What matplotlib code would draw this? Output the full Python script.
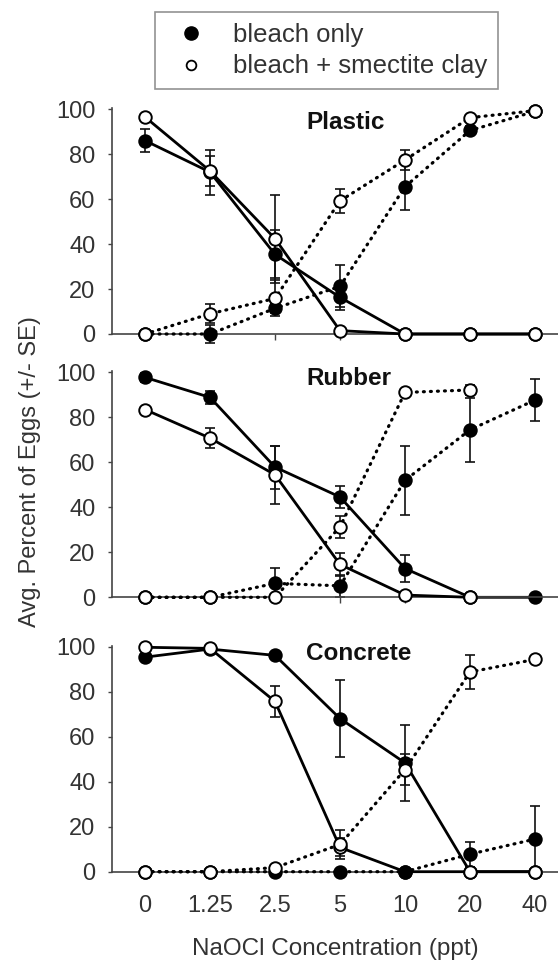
import numpy as np
import matplotlib
matplotlib.use("Agg")
import matplotlib.pyplot as plt
from matplotlib.lines import Line2D

plt.rcParams['font.family'] = ['Liberation Sans', 'DejaVu Sans']

conc_labels = ['0', '1.25', '2.5', '5', '10', '20', '40']
panels = ['Plastic', 'Rubber', 'Concrete']
nan = np.nan

# solid lines (decreasing), dotted lines (increasing)
# sb = bleach only solid, sc = bleach + clay solid, db / dc = dotted
plastic_sb = [86, 72, 35.4, 16.3, 0, 0, 0]
plastic_sb_se = [5, 10, 10.7, 5.5, 0, 0, 0]
plastic_sc = [96.5, 72.5, 42.4, 1.5, 0, 0, 0]
plastic_sc_se = [0, 6.6, 19.6, 0, 0, 0, 0]
plastic_db = [0, 0, 11.4, 21.2, 65.5, 90.5, 99]
plastic_db_se = [0, 4, 2, 9.4, 10.5, 2, 0]
plastic_dc = [0, 9, 15.8, 59.2, 77.4, 96.2, 99.3]
plastic_dc_se = [0, 4.2, 8, 5.5, 4.5, 1, 0]

rubber_sb = [97.8, 88.9, 57.9, 44.6, 12.8, 0, 0]
rubber_sb_se = [2, 3, 9.6, 4.7, 6, 0, 0]
rubber_sc = [83.5, 70.8, 54.5, 14.6, 1, 0, nan]
rubber_sc_se = [1, 4.5, 12.8, 5, 0, 0, 0]
rubber_db = [0, 0, 6.2, 5.1, 52, 74.5, 87.7]
rubber_db_se = [0, 0, 6.7, 5, 15.3, 14.3, 9.2]
rubber_dc = [0, 0, 0, 31.3, 91.1, 92.2, nan]
rubber_dc_se = [0, 0, 0, 5, 0, 2.3, 0]

concrete_sb = [95.4, 99, 96.2, 68.1, 48.4, 0, 0]
concrete_sb_se = [1, 0, 0, 17, 17, 0, 0]
concrete_sc = [99.8, 99.3, 75.7, 10.8, 0, 0, 0]
concrete_sc_se = [0, 0, 7, 4, 0, 0, 0]
concrete_db = [0, 0, 0, 0, 0, 7.8, 14.5]
concrete_db_se = [0, 0, 0, 0, 0, 5.5, 14.6]
concrete_dc = [0, 0, 1.8, 12.1, 45.4, 88.8, 94.4]
concrete_dc_se = [0, 0, 0, 6.5, 7, 7.5, 0]

data = {
    'Plastic': [(plastic_sb, plastic_sb_se), (plastic_sc, plastic_sc_se),
                (plastic_db, plastic_db_se), (plastic_dc, plastic_dc_se)],
    'Rubber': [(rubber_sb, rubber_sb_se), (rubber_sc, rubber_sc_se),
               (rubber_db, rubber_db_se), (rubber_dc, rubber_dc_se)],
    'Concrete': [(concrete_sb, concrete_sb_se), (concrete_sc, concrete_sc_se),
                 (concrete_db, concrete_db_se), (concrete_dc, concrete_dc_se)],
}
title_y = {'Plastic': 94, 'Rubber': 97.3, 'Concrete': 97}

W, H = 558, 963
fig = plt.figure(figsize=(W / 100, H / 100), dpi=100)

txt = '#333333'
spine_c = '#444444'
x = np.arange(len(conc_labels))
bottoms = [334, 597.3, 871.7]
dotted = (0, (0.3, 1.9))
styles = [
    dict(ls='-', lw=2.0, mfc='black'),
    dict(ls='-', lw=2.0, mfc='white'),
    dict(ls=dotted, lw=2.3, mfc='black'),
    dict(ls=dotted, lw=2.3, mfc='white'),
]

for i, name in enumerate(panels):
    ax = fig.add_axes([112 / W, 1 - bottoms[i] / H, (W - 112) / W, 226 / H])
    for k, (vals, se) in enumerate(data[name]):
        eb = ax.errorbar(x, vals, yerr=se, fmt='none', ecolor='#111111',
                         elinewidth=1.2, capsize=3.5, capthick=1.2, zorder=1)
        for art in eb.get_children():
            art.set_clip_on(False)
    for k, (vals, se) in enumerate(data[name]):
        st = styles[k]
        ax.plot(x, vals, linestyle=st['ls'], color='black', lw=st['lw'],
                marker='o', ms=9, mfc=st['mfc'], mec='black', mew=1.4,
                dash_capstyle='round', clip_on=False, zorder=2 + k)
    ax.set_xlim(-0.508, 6.354)
    ax.set_ylim(0, 100.5)
    ax.set_yticks([0, 20, 40, 60, 80, 100])
    ax.set_xticks(x)
    ax.spines['top'].set_visible(False)
    ax.spines['right'].set_visible(False)
    for s in ['left', 'bottom']:
        ax.spines[s].set_color(spine_c)
        ax.spines[s].set_linewidth(1.2)
    ax.tick_params(axis='y', length=3, width=1, colors=spine_c, labelcolor=txt,
                   labelsize=17, pad=9)
    ax.tick_params(axis='x', length=4, width=1, colors=spine_c, labelcolor=txt,
                   labelsize=17, pad=13)
    if i < 2:
        ax.set_xticklabels([])
    else:
        ax.set_xticklabels(conc_labels)
        ax.set_xlabel('NaOCl Concentration (ppt)', fontsize=17.5, color=txt, labelpad=15)
    ax.text(2.477, title_y[name], name, fontsize=17.5, fontweight='bold',
            ha='left', va='center', color='#111111')

fig.text(30 / W, 1 - 472 / H, 'Avg. Percent of Eggs (+/- SE)', rotation=90,
         ha='center', va='center', fontsize=17, color=txt)

handles = [
    Line2D([], [], ls='none', marker='o', ms=9.5, mfc='black', mec='black'),
    Line2D([], [], ls='none', marker='o', ms=7, mfc='white', mec='black', mew=1.3),
]
leg = fig.legend(handles, ['bleach only', 'bleach + smectite clay'],
                 loc='upper left', bbox_to_anchor=(155 / W, 1 - 12 / H),
                 fontsize=18.5, frameon=True, fancybox=False, borderaxespad=0,
                 borderpad=0.42, handlelength=2.0, handletextpad=0.62,
                 labelspacing=0.3, labelcolor=txt)
leg.get_frame().set_edgecolor('#777777')
leg.get_frame().set_linewidth(1.2)

fig.savefig('out.png', dpi=100)
